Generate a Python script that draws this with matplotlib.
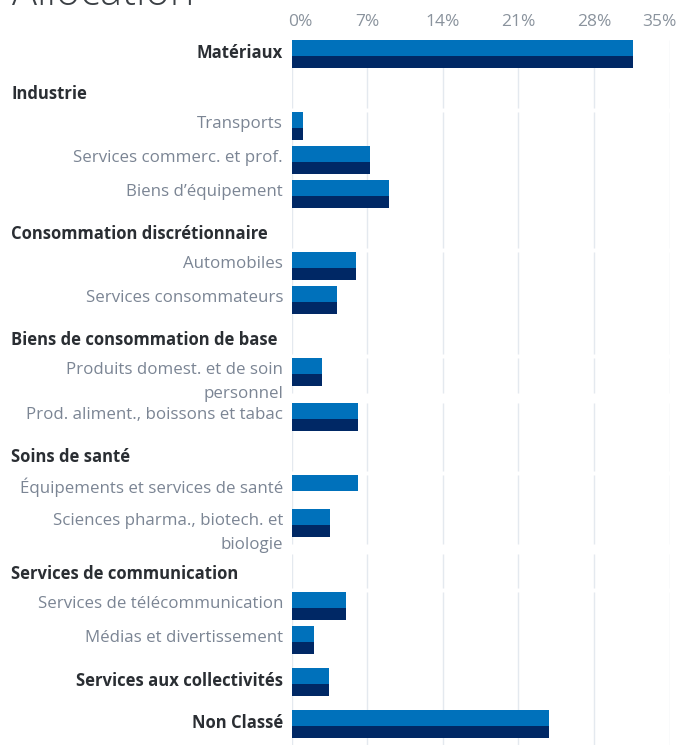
import matplotlib.pyplot as plt

# chart data (percent)
row_labels = [
    'Matériaux',
    'Industrie',
    'Transports',
    'Services commerc. et prof.',
    'Biens d’équipement',
    'Consommation discrétionnaire',
    'Automobiles',
    'Services consommateurs',
    'Biens de consommation de base',
    'Produits domest. et de soin\npersonnel',
    'Prod. aliment., boissons et tabac',
    'Soins de santé',
    'Équipements et services de santé',
    'Sciences pharma., biotech. et\nbiologie',
    'Services de communication',
    'Services de télécommunication',
    'Médias et divertissement',
    'Services aux collectivités',
    'Non Classé',
]
row_kinds = ['top', 'head', 'item', 'item', 'item', 'head', 'item', 'item', 'head',
             'item', 'item', 'head', 'item', 'item', 'head', 'item', 'item', 'top', 'top']
fund = [31.6, None, 1.1, 7.3, 9.0, None, 6.0, 4.2, None, 2.8, 6.2, None, 6.2, 3.6, None,
        5.0, 2.1, 3.5, 23.8]
index = [31.6, None, 1.1, 7.3, 9.0, None, 6.0, 4.2, None, 2.8, 6.2, None, 0.0, 3.6, None,
         5.0, 2.1, 3.5, 23.8]
ticks = [0, 7, 14, 21, 28, 35]
tick_labels = ['0%', '7%', '14%', '21%', '28%', '35%']

W, H = 677, 745
X0, X1 = 291.5, 669.5
LIGHT = '#0071bb'
DARK = '#002865'
GRID = '#e4e9ef'
FONT = ['Open Sans', 'DejaVu Sans']

plt.rcParams['font.family'] = FONT

fig = plt.figure(figsize=(W / 100, H / 100), dpi=100)
ax = fig.add_axes([X0 / W, 0, (X1 - X0) / W, 1])
ax.set_xlim(0, 35)
ax.set_ylim(H, 0)
ax.axis('off')


def px(p):
    # figure pixel x -> data x
    return (p - X0) / (X1 - X0) * 35


# lay out rows
y = 32
seg_start = None
segments = []
for label, kind, a, b in zip(row_labels, row_kinds, fund, index):
    lines = label.split('\n')
    if kind == 'head':
        ax.text(px(11), y + 20, label, ha='left', va='center', fontsize=12,
                fontweight='bold', color='#2a2e33', clip_on=False)
        y += 38
        segments.append((seg_start, y - 4))
        seg_start = y
        continue
    top = y + 8 if kind == 'top' else y
    if seg_start is None:
        seg_start = top
    ax.barh(top + 8, a, height=16, left=0, color=LIGHT, zorder=3)
    ax.barh(top + 22, b, height=12, left=0, color=DARK, zorder=3)
    if kind == 'top':
        ax.text(px(283), top + 13, label, ha='right', va='center', fontsize=12,
                fontweight='bold', color='#2a2e33', clip_on=False)
        y = top + 34
    else:
        for i, line in enumerate(lines):
            ax.text(px(283), top + 12 + 24 * i, line, ha='right', va='center',
                    fontsize=12.2, color='#7b8594', clip_on=False)
        y = top + 34 + 11 * (len(lines) - 1)
    if len(lines) > 1:
        segments.append((seg_start, y - 10))
        seg_start = y
segments.append((seg_start, H))

for s0, s1 in segments:
    ax.vlines(ticks, s0, s1, color=GRID, lw=1, zorder=1)

for t, lab in zip(ticks, tick_labels):
    if t == ticks[0]:
        ax.text(px(288), 22, lab, ha='left', va='center', fontsize=12.5,
                color='#8a939d', clip_on=False)
    elif t == ticks[-1]:
        ax.text(px(677), 22, lab, ha='right', va='center', fontsize=12.5,
                color='#8a939d', clip_on=False)
    else:
        ax.text(t, 22, lab, ha='center', va='center', fontsize=12.5,
                color='#8a939d', clip_on=False)

fig.text(12 / W, 1 - 5 / H, 'Allocation', ha='left', va='baseline', fontsize=30,
         fontweight='light', color='#3b4045')

fig.savefig('out.png', dpi=100)
